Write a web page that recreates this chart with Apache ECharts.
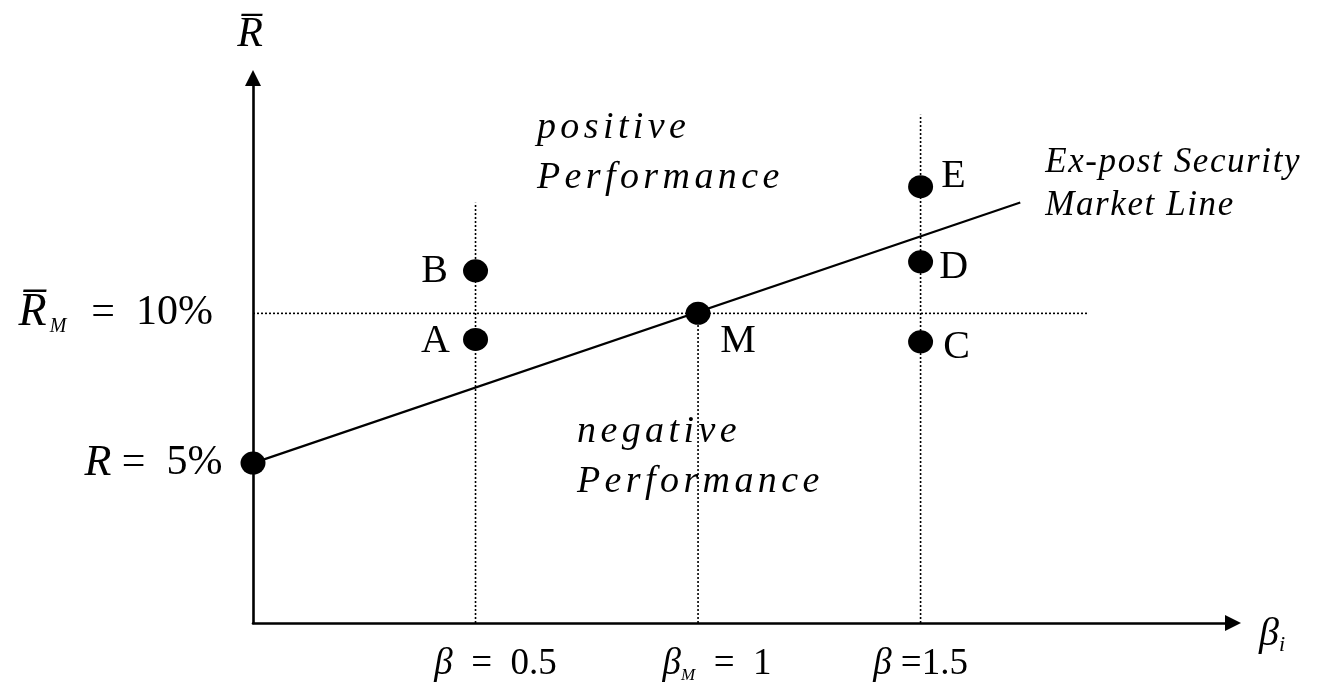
<!DOCTYPE html>
<html>
<head>
<meta charset="utf-8">
<script src="https://cdn.jsdelivr.net/npm/echarts@6/dist/echarts.min.js"></script>
<style>
html,body{margin:0;padding:0;background:#fff;}
#chart{width:1322px;height:687px;}
</style>
</head>
<body>
<div id="chart"></div>
<script>
// ---- data ----
const pointNames = ['A', 'B', 'M', 'C', 'D', 'E'];
const pointBeta = [0.5, 0.5, 1, 1.5, 1.5, 1.5];
const pointReturn = [9.13, 11.42, 10, 9.05, 11.72, 14.23];
const riskFreeRate = 5;
const marketReturn = 10;
const smlEnd = [1.724, 13.7];
const guideBeta = [0.5, 1, 1.5];
const guideTop = [13.69, 10, 16.63];
const hLineEnd = 1.876;
const betaTickLabels = ['β  =  0.5', 'β_M  =  1', 'β =1.5'];
const axisRange = { xMin: 0, xMax: 2.202, yMin: -0.34, yMax: 17.86 };

// ---- rendering tweak: the reference's italic captions are letter-spaced ----
(function () {
  const proto = CanvasRenderingContext2D.prototype;
  const orig = proto.fillText;
  proto.fillText = function (text, x, y, maxW) {
    const m = /italic.*?(\d+)px/.exec(this.font || '');
    let sp = '0px';
    if (m && m[1] === '38') sp = '4.4px';
    else if (m && m[1] === '35') sp = '1.6px';
    if ('letterSpacing' in this) this.letterSpacing = sp;
    return maxW === undefined ? orig.call(this, text, x, y) : orig.call(this, text, x, y, maxW);
  };
})();

// ---- layout / style (not data) ----
const FONT = 'Liberation Serif';
const labelOffsets = { A: [-40, 2], B: [-41, 1], M: [40, 28], C: [36, 6], D: [33, 6], E: [33, -10] };
const tickOffsets = [[20, 41], [19, 41], [0, 41]];
const dotted = { color: '#000', width: 1.6, type: [2, 2] };

const series = [];
guideBeta.forEach((b, i) => {
  series.push({
    type: 'line', data: [[b, axisRange.yMin], [b, guideTop[i]]],
    symbol: 'none', lineStyle: dotted, silent: true, z: 1
  });
});
series.push({
  type: 'line', data: [[0, marketReturn], [hLineEnd, marketReturn]],
  symbol: 'none', lineStyle: dotted, silent: true, z: 1
});
series.push({
  type: 'line', data: [[0, riskFreeRate], smlEnd],
  symbol: 'none', lineStyle: { color: '#000', width: 2.2 }, z: 2
});
series.push({
  type: 'scatter', z: 3,
  symbol: 'circle', symbolSize: [25, 23],
  itemStyle: { color: '#000', opacity: 1 },
  data: pointNames.map((n, i) => ({
    value: [pointBeta[i], pointReturn[i]], name: n,
    label: { show: true, position: 'inside', offset: labelOffsets[n], formatter: n,
      color: '#000', fontFamily: FONT, fontSize: 40 }
  })).concat([{
    value: [0, riskFreeRate], name: 'Rf',
    label: { show: true, position: 'left', distance: 18,
      formatter: '{i|R}{n| =  5%}',
      rich: { i: { fontFamily: FONT, fontStyle: 'italic', fontSize: 44, color: '#000' },
              n: { fontFamily: FONT, fontSize: 42, color: '#000' } } }
  }])
});
series.push({
  type: 'scatter', symbolSize: 0, silent: true, z: 4,
  itemStyle: { opacity: 1 },
  data: [{
    value: [0, marketReturn],
    label: { show: true, position: 'left', distance: 40,
      formatter: '{i|R\u0305}{s|M}{n|  =  10%}',
      rich: {
        i: { fontFamily: FONT, fontStyle: 'italic', fontSize: 46, color: '#000', lineHeight: 46 },
        s: { fontFamily: FONT, fontStyle: 'italic', fontSize: 20, color: '#000', lineHeight: 22,
             verticalAlign: 'bottom', padding: [0, 4, 0, 3] },
        n: { fontFamily: FONT, fontSize: 42, color: '#000', lineHeight: 46 }
      } }
  }]
});
series.push({
  type: 'scatter', symbolSize: 0, silent: true, z: 4,
  itemStyle: { opacity: 1 },
  data: guideBeta.map((b, i) => {
    const txt = betaTickLabels[i];
    const head = txt.split(' ')[0];
    const rest = txt.slice(head.length);
    let fmt;
    if (head.indexOf('_') >= 0) {
      const hs = head.split('_');
      fmt = '{b|' + hs[0] + '}{s|' + hs[1] + '}{n|' + rest + '}';
    } else {
      fmt = '{b|' + head + '}{n|' + rest + '}';
    }
    return {
      value: [b, axisRange.yMin],
      label: { show: true, position: 'inside', offset: tickOffsets[i], formatter: fmt,
        rich: {
          b: { fontFamily: FONT, fontStyle: 'italic', fontSize: 37, color: '#000', lineHeight: 40 },
          s: { fontFamily: FONT, fontStyle: 'italic', fontSize: 17, color: '#000', lineHeight: 18, verticalAlign: 'bottom' },
          n: { fontFamily: FONT, fontSize: 37, color: '#000', lineHeight: 40 }
        } }
    };
  })
});
const annotStyle = { fontFamily: FONT, fontStyle: 'italic', color: '#000' };
series.push({
  type: 'scatter', symbolSize: 0, silent: true, z: 4,
  itemStyle: { opacity: 1 },
  data: [
    { value: [0.638, 15.36], label: { show: true, position: 'right', distance: 0,
      formatter: 'positive\nPerformance', ...annotStyle, fontSize: 38, lineHeight: 50 } },
    { value: [0.728, 5.2], label: { show: true, position: 'right', distance: 0,
      formatter: 'negative\nPerformance', ...annotStyle, fontSize: 38, lineHeight: 50 } },
    { value: [1.78, 14.32], label: { show: true, position: 'right', distance: 0,
      formatter: 'Ex-post Security\nMarket Line', ...annotStyle, fontSize: 35, lineHeight: 43 } }
  ]
});

const chart = echarts.init(document.getElementById('chart'), null, { renderer: 'canvas' });
chart.setOption({
  backgroundColor: '#fff',
  animation: false,
  grid: { left: 253, right: 89, top: 78, bottom: 64 },
  xAxis: {
    type: 'value', min: axisRange.xMin, max: axisRange.xMax,
    name: '{b|β}{i|i}', nameLocation: 'end', nameGap: 26,
    nameTextStyle: { rich: {
      b: { fontFamily: FONT, fontStyle: 'italic', fontSize: 40, color: '#000', lineHeight: 44 },
      i: { fontFamily: FONT, fontStyle: 'italic', fontSize: 22, color: '#000', lineHeight: 24, verticalAlign: 'bottom' }
    }, padding: [22, 0, 0, 0] },
    axisLine: { show: true, onZero: false, symbol: ['none', 'triangle'], symbolSize: [16, 16],
      lineStyle: { color: '#000', width: 2.6 } },
    axisTick: { show: false }, axisLabel: { show: false }, splitLine: { show: false }
  },
  yAxis: {
    type: 'value', min: axisRange.yMin, max: axisRange.yMax,
    name: 'R\u0305', nameLocation: 'end', nameGap: 22,
    nameTextStyle: { fontFamily: FONT, fontStyle: 'italic', fontSize: 42, color: '#000', align: 'center', padding: [0, 6, 0, 0] },
    axisLine: { show: true, onZero: false, symbol: ['none', 'triangle'], symbolSize: [16, 16],
      lineStyle: { color: '#000', width: 2.6 } },
    axisTick: { show: false }, axisLabel: { show: false }, splitLine: { show: false }
  },
  series: series
});
</script>
</body>
</html>
